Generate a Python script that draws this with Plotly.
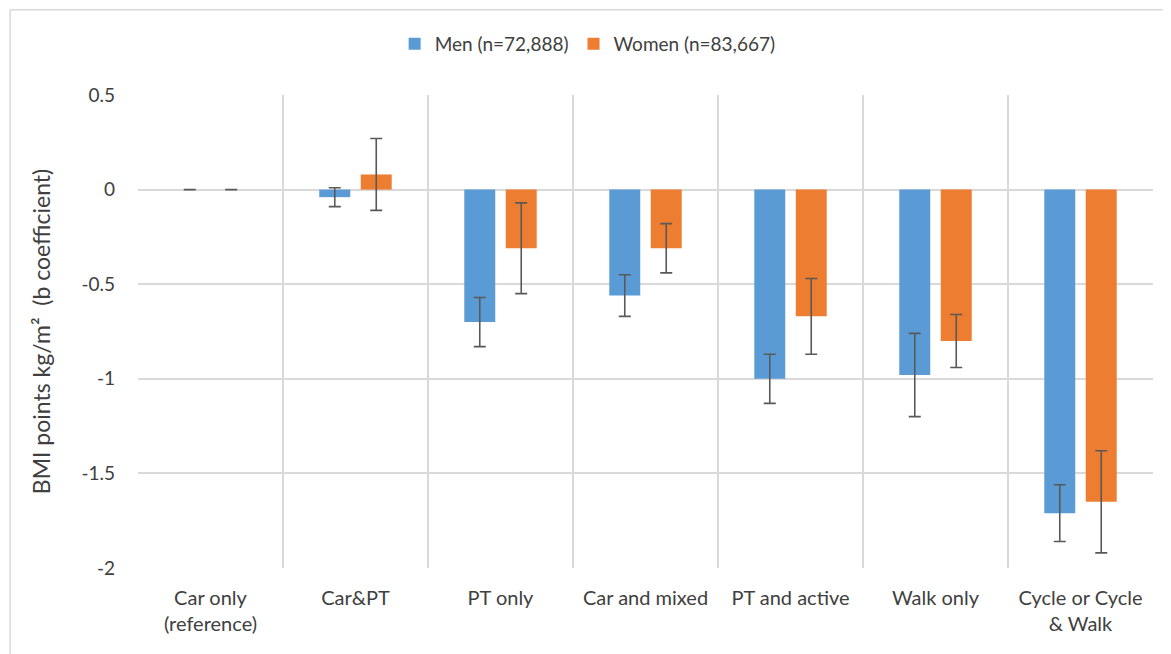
import plotly.graph_objects as go

categories = ["Car only<br>(reference)", "Car&PT", "PT only", "Car and mixed", "PT and active", "Walk only", "Cycle or Cycle<br>& Walk"]
men = [0.0, -0.04, -0.70, -0.56, -1.00, -0.98, -1.71]
men_upper = [0.0, 0.01, -0.57, -0.45, -0.87, -0.76, -1.56]
men_lower = [0.0, -0.09, -0.83, -0.67, -1.13, -1.20, -1.86]
women = [0.0, 0.08, -0.31, -0.31, -0.67, -0.80, -1.65]
women_upper = [0.0, 0.27, -0.07, -0.18, -0.47, -0.66, -1.38]
women_lower = [0.0, -0.11, -0.55, -0.44, -0.87, -0.94, -1.92]
y_ticks = [0.5, 0, -0.5, -1, -1.5, -2]

FONT = "Lato"
TXT = "#404040"
ERR = "#595959"

def err(vals, up, lo):
    return dict(type="data", symmetric=False,
                array=[u - v for u, v in zip(up, vals)],
                arrayminus=[v - l for v, l in zip(vals, lo)],
                color=ERR, thickness=1.6, width=6)

fig = go.Figure()
fig.add_trace(go.Bar(x=categories, y=men, name="Men (n=72,888)",
                     marker=dict(color="#5B9BD5", line=dict(width=0)),
                     error_y=err(men, men_upper, men_lower)))
fig.add_trace(go.Bar(x=categories, y=women, name="Women (n=83,667)",
                     marker=dict(color="#ED7D31", line=dict(width=0)),
                     error_y=err(women, women_upper, women_lower)))

fig.update_layout(
    width=1163, height=646,
    margin=dict(l=130, r=18, t=87, b=86),
    paper_bgcolor="white", plot_bgcolor="white",
    barmode="group", bargap=0.428, bargroupgap=0.253,
    font=dict(family=FONT, color=TXT, size=18),
    legend=dict(orientation="h", x=0.443, xanchor="center", y=1.108, yanchor="middle",
                font=dict(size=19, color=TXT), itemwidth=30, traceorder="normal"),
    xaxis=dict(type="category", range=[-0.5, 6.5], tickson="boundaries",
               showgrid=True, gridcolor="#D9D9D9", gridwidth=1.5,
               showline=False, zeroline=False, ticks="",
               tickfont=dict(size=20, color=TXT), ticklabelstandoff=16),
    yaxis=dict(range=[-2, 0.5], tickvals=y_ticks, ticktext=[str(t) for t in y_ticks],
               showgrid=True, gridcolor="#D9D9D9", gridwidth=1.5,
               zeroline=False, showline=False, ticks="",
               tickfont=dict(size=19, color=TXT), ticklabelstandoff=22,
               title=dict(text="BMI points kg/m²  (b coefficient)", font=dict(size=23, color=TXT), standoff=24)),
    shapes=[
        dict(type="line", xref="paper", yref="paper", x0=-0.126, x1=1.02, y0=1.18, y1=1.18,
             line=dict(color="#D9D9D9", width=1.5)),
        dict(type="line", xref="paper", yref="paper", x0=-0.126, x1=-0.126, y0=1.18, y1=-0.2,
             line=dict(color="#D9D9D9", width=1.5)),
    ],
)

fig.write_html("out.html")
